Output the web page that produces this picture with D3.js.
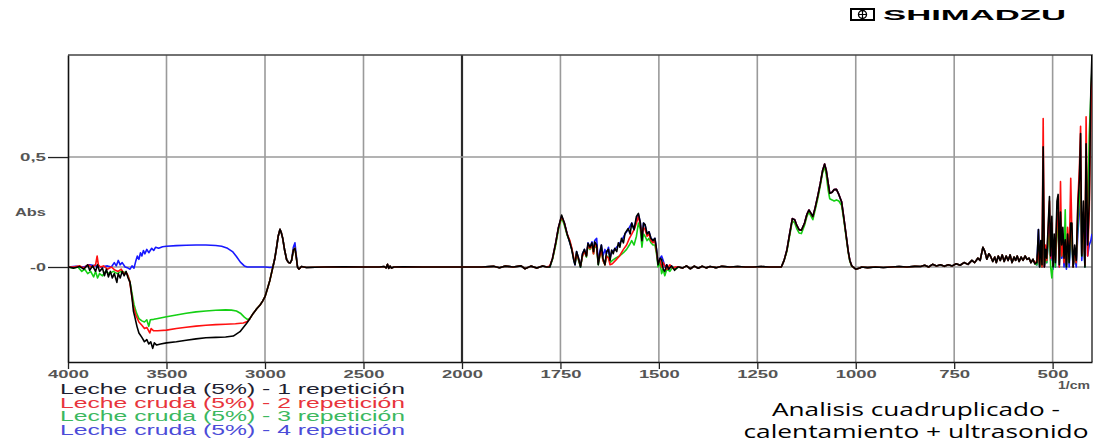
<!DOCTYPE html>
<html>
<head>
<meta charset="utf-8">
<script src="https://d3js.org/d3.v7.min.js"></script>
<style>
body { margin: 0; background: #fff; }
.grid line { stroke: #9a9a9a; stroke-width: 1.6; }
.tick-lbl { font-family: "Liberation Sans", Arial, sans-serif; font-weight: bold; font-size: 11.5px; fill: #555; }
</style>
</head>
<body>
<div id="graphId"></div>
<script>
// ---- data (wavenumber 1/cm, Abs) ----
var oh1 = [[4000,0],[3970,-0.005],[3940,0.002],[3920,-0.01],[3900,0.01],[3890,-0.015],[3875,0.005],[3860,-0.02],[3850,0.01],[3840,-0.02],[3825,-0.005],[3815,-0.04],[3805,-0.01],[3795,-0.045],[3785,-0.02],[3775,-0.05],[3765,-0.03],[3752,-0.07],[3745,-0.03],[3735,-0.05],[3725,-0.02],[3715,-0.04],[3705,-0.02],[3695,-0.05],[3685,-0.07],[3675,-0.14],[3668,-0.2],[3660,-0.23],[3650,-0.27],[3640,-0.3],[3625,-0.32],[3612,-0.34],[3600,-0.33],[3590,-0.35],[3580,-0.34],[3570,-0.37],[3562,-0.345],[3550,-0.355],[3530,-0.35],[3500,-0.345],[3450,-0.34],[3400,-0.333],[3350,-0.327],[3300,-0.322],[3250,-0.32],[3200,-0.318],[3161,-0.314],[3127,-0.294],[3093,-0.256],[3077,-0.235]];
var oh2 = [[4000,0],[3970,0],[3940,0.005],[3920,-0.005],[3900,0.01],[3880,0],[3860,0.01],[3852,0.05],[3846,0.01],[3835,0],[3820,0.005],[3800,-0.01],[3780,0],[3760,-0.015],[3745,-0.02],[3730,-0.01],[3715,-0.03],[3700,-0.03],[3688,-0.06],[3678,-0.12],[3668,-0.18],[3655,-0.22],[3640,-0.25],[3625,-0.265],[3612,-0.28],[3600,-0.275],[3585,-0.3],[3578,-0.28],[3565,-0.29],[3545,-0.29],[3500,-0.287],[3450,-0.28],[3400,-0.274],[3350,-0.269],[3300,-0.265],[3250,-0.262],[3200,-0.26],[3150,-0.258],[3110,-0.255],[3090,-0.248],[3077,-0.235]];
var oh3 = [[4000,0],[3970,-0.005],[3950,0],[3930,-0.02],[3915,-0.01],[3900,-0.03],[3885,-0.02],[3870,-0.045],[3860,-0.02],[3850,-0.05],[3840,-0.03],[3825,-0.04],[3810,-0.02],[3790,-0.03],[3770,-0.02],[3750,-0.03],[3730,-0.02],[3710,-0.025],[3695,-0.04],[3685,-0.07],[3675,-0.12],[3665,-0.17],[3652,-0.21],[3640,-0.235],[3625,-0.245],[3612,-0.25],[3600,-0.24],[3590,-0.27],[3582,-0.24],[3565,-0.238],[3550,-0.235],[3500,-0.226],[3450,-0.218],[3400,-0.21],[3350,-0.204],[3300,-0.2],[3250,-0.197],[3200,-0.195],[3170,-0.196],[3145,-0.2],[3125,-0.21],[3105,-0.228],[3090,-0.238],[3077,-0.235]];
var oh4 = [[4000,0],[3960,0.003],[3920,0],[3890,0.01],[3860,0.005],[3830,0],[3800,0.005],[3780,0],[3765,0.02],[3755,0.005],[3745,0.03],[3735,0.01],[3725,0.02],[3710,0],[3695,-0.005],[3685,-0.01],[3675,0.005],[3665,-0.005],[3655,0.03],[3648,0.05],[3640,0.035],[3632,0.065],[3625,0.05],[3617,0.075],[3610,0.06],[3600,0.08],[3590,0.065],[3575,0.085],[3565,0.075],[3555,0.09],[3540,0.085],[3520,0.092],[3500,0.094],[3450,0.097],[3400,0.099],[3350,0.1],[3300,0.1],[3250,0.098],[3220,0.094],[3190,0.085],[3165,0.07],[3145,0.048],[3125,0.022],[3105,0.005],[3090,0],[3000,0],[2975,-0.002],[2960,0]];
var subida = [[3059,-0.21],[3042,-0.19],[3025,-0.173],[3012,-0.155],[3000,-0.135],[2988,-0.1],[2975,-0.06],[2960,0]];
var chA = [[2950,0.04],[2941,0.09],[2933,0.14],[2924,0.171],[2917,0.155],[2910,0.13],[2900,0.075],[2890,0.033],[2880,0.02],[2873,0.018],[2865,0.03]];
var chPico = [[2856,0.077],[2848,0.085],[2842,0.05]];
var chPicoAzul = [[2856,0.09],[2848,0.11],[2842,0.06]];
var chB = [[2835,0],[2828,-0.01],[2815,0.002],[2790,-0.002],[2700,0],[2600,0.001],[2500,0],[2420,0],[2395,0.002],[2385,-0.004],[2378,0.012],[2372,-0.006],[2365,0.004],[2358,-0.005],[2345,0],[2300,0.001],[2200,0],[2100,0],[2000,0],[1950,0],[1920,0.003],[1905,-0.003],[1890,0.004],[1870,0],[1850,0.005],[1840,-0.008],[1825,0.004],[1810,-0.005],[1795,0.005],[1785,0]];
var am1 = [[1777,0],[1770,0.04],[1762,0.11],[1755,0.18],[1747,0.236],[1740,0.2],[1733,0.15],[1726,0.11],[1721,0.077],[1716,0.03],[1713,0.01],[1709,0.07],[1704,0.04],[1699,0],[1694,0.06],[1689,0.08],[1684,0.05],[1680,0.108],[1675,0.09],[1670,0.11],[1666,0.07],[1663,0.114],[1658,0.1],[1654,0.01],[1650,0.06],[1646,0.1],[1642,0.04],[1637,0.01],[1633,0.07],[1628,0.08],[1624,0.03],[1620,0.077],[1616,0.06],[1612,0.085],[1607,0.07],[1603,0.11],[1599,0.09],[1595,0.13],[1590,0.11],[1586,0.153],[1578,0.175],[1573,0.15],[1569,0.2],[1563,0.17],[1557,0.23],[1552,0.244],[1547,0.2],[1543,0.12],[1539,0.2],[1535,0.193],[1530,0.15],[1525,0.16],[1520,0.13],[1515,0.12],[1510,0.13],[1506,0.08],[1502,0.01],[1497,0.04],[1493,0.035],[1489,-0.01],[1485,-0.02],[1480,0.01],[1475,-0.01],[1468,0.005],[1460,-0.015],[1452,0]];
var am2 = [[1777,0.005],[1770,0.04],[1762,0.11],[1755,0.18],[1747,0.23],[1740,0.2],[1733,0.15],[1726,0.12],[1721,0.085],[1716,0.04],[1713,0.02],[1709,0.06],[1704,0.035],[1699,0.005],[1694,0.05],[1689,0.07],[1684,0.05],[1680,0.1],[1675,0.085],[1670,0.1],[1666,0.06],[1663,0.105],[1658,0.09],[1654,0.02],[1650,0.05],[1646,0.08],[1642,0.03],[1637,0.01],[1633,0.05],[1628,0.04],[1624,0.01],[1618,0.015],[1610,0.03],[1600,0.05],[1590,0.08],[1582,0.1],[1575,0.13],[1569,0.15],[1563,0.17],[1557,0.2],[1552,0.23],[1547,0.19],[1543,0.14],[1539,0.18],[1535,0.17],[1530,0.14],[1525,0.15],[1520,0.12],[1515,0.11],[1510,0.12],[1506,0.07],[1502,0.02],[1497,0.03],[1493,0],[1489,0.02],[1485,0.005],[1480,-0.01],[1472,0.01],[1465,-0.005],[1458,0]];
var am3 = [[1777,0],[1770,0.035],[1762,0.1],[1755,0.17],[1747,0.225],[1740,0.19],[1733,0.145],[1726,0.115],[1721,0.08],[1716,0.035],[1713,0.015],[1709,0.06],[1704,0.03],[1699,0],[1694,0.05],[1689,0.07],[1684,0.045],[1680,0.1],[1675,0.08],[1670,0.1],[1666,0.06],[1663,0.1],[1658,0.085],[1654,0.01],[1650,0.05],[1646,0.075],[1642,0.03],[1637,0.01],[1633,0.05],[1628,0.045],[1624,0.02],[1618,0.03],[1610,0.04],[1600,0.05],[1590,0.065],[1582,0.08],[1575,0.1],[1569,0.12],[1563,0.1],[1557,0.14],[1552,0.2],[1547,0.17],[1543,0.09],[1539,0.15],[1535,0.14],[1530,0.12],[1525,0.13],[1520,0.11],[1515,0.1],[1510,0.1],[1506,0.06],[1502,0],[1497,0.02],[1493,-0.03],[1489,-0.01],[1485,-0.04],[1480,-0.01],[1472,-0.02],[1465,0],[1458,-0.01]];
var am4 = [[1777,0],[1770,0.04],[1762,0.11],[1755,0.18],[1747,0.23],[1740,0.2],[1733,0.15],[1726,0.11],[1721,0.08],[1716,0.03],[1713,0.01],[1709,0.07],[1704,0.04],[1699,0],[1694,0.06],[1689,0.08],[1684,0.05],[1680,0.11],[1675,0.09],[1670,0.115],[1666,0.07],[1663,0.12],[1658,0.13],[1654,0.02],[1650,0.07],[1646,0.1],[1642,0.05],[1637,0.08],[1633,0.06],[1628,0.09],[1624,0.04],[1620,0.07],[1612,0.08],[1603,0.1],[1595,0.12],[1586,0.15],[1578,0.17],[1569,0.2],[1563,0.17],[1557,0.22],[1552,0.24],[1547,0.2],[1543,0.12],[1539,0.2],[1535,0.19],[1530,0.15],[1525,0.16],[1520,0.13],[1515,0.12],[1510,0.13],[1506,0.08],[1502,0.01],[1497,0.04],[1493,0.05],[1489,0.03],[1485,0],[1480,0.01],[1475,-0.01],[1468,0.005],[1460,-0.01],[1452,0]];
var media = [[1450,0],[1440,-0.005],[1430,0.005],[1420,-0.008],[1410,0.004],[1400,-0.006],[1390,0.003],[1380,-0.004],[1370,0.002],[1355,-0.003],[1340,0.003],[1320,0],[1300,0.002],[1280,0],[1260,0],[1240,0.002],[1220,0],[1200,0],[1189,0]];
var carb = [[1182,0.03],[1175,0.076],[1168,0.15],[1161,0.22],[1155,0.215],[1150,0.19],[1144,0.17],[1138,0.167],[1130,0.2],[1124,0.24],[1119,0.259],[1114,0.245],[1109,0.229],[1103,0.27],[1096,0.327],[1090,0.38],[1084,0.44],[1079,0.468],[1075,0.44],[1070,0.38],[1066,0.335],[1060,0.34],[1055,0.352],[1049,0.353],[1043,0.33],[1036,0.297],[1030,0.22],[1024,0.138],[1019,0.07],[1015,0.03],[1010,0.005],[1007,0],[1000,-0.01],[990,-0.005]];
var carbVerde = [[1182,0.03],[1175,0.07],[1168,0.14],[1161,0.21],[1155,0.2],[1150,0.175],[1144,0.155],[1138,0.152],[1130,0.19],[1124,0.23],[1119,0.25],[1114,0.232],[1109,0.215],[1103,0.26],[1096,0.315],[1090,0.37],[1084,0.43],[1079,0.455],[1075,0.42],[1070,0.35],[1066,0.31],[1060,0.305],[1055,0.3],[1049,0.305],[1043,0.3],[1036,0.28],[1030,0.21],[1024,0.13],[1019,0.065],[1015,0.025],[1010,0.003],[1007,0],[1000,-0.01],[990,-0.005]];
var baja = [[985,0],[970,-0.003],[950,0],[930,-0.002],[910,0],[890,0.002],[870,0],[850,0.003],[835,0.002],[825,0.008],[815,0],[805,0.012],[795,0.005],[785,0.01],[775,0.003],[765,0.01],[755,0.005],[745,0.015],[735,0.008],[725,0.02],[715,0.012],[705,0.03],[698,0.02],[690,0.04],[684,0.03],[677,0.09],[672,0.07],[667,0.035],[662,0.06],[658,0.05],[652,0.025],[647,0.045],[643,0.02],[638,0.05],[633,0.03],[628,0.055],[623,0.025],[618,0.05],[613,0.03],[608,0.055],[603,0.02],[598,0.045],[594,0.03],[590,0.05],[585,0.025],[580,0.045],[575,0.03],[570,0.05],[565,0.035],[560,0.04],[555,0.02],[550,0.035],[545,0.015]];
var picos1 = [[540,0.02],[536,0.17],[533,0],[530,0.12],[527,0.01],[524,0.546],[521,0],[518,0.08],[515,0.04],[511,0.2],[508,0.32],[505,0.05],[502,0.23],[499,0],[496,0.15],[493,0.02],[489,0.3],[486,0.33],[483,0.01],[480,0.25],[477,0.1],[474,0.18],[471,0.04],[468,0.124],[465,0],[462,0.15],[458,0.02],[454,0.2],[451,0.2],[448,0],[444,0.1],[440,0.03],[436,0.27],[432,0.4],[429,0.607],[426,0.05],[422,0.3],[418,0],[415,0.56],[411,0.1],[407,0.3],[403,0.8],[400,0.97]];
var picos2 = [[540,0.03],[537,0.07],[533,0.01],[530,0.1],[527,0],[524,0.675],[521,0],[518,0.1],[515,0.03],[511,0.18],[508,0.3],[505,0.04],[502,0.2],[499,0.01],[496,0.12],[493,0.03],[489,0.25],[486,0.2],[483,0],[480,0.388],[477,0.05],[474,0.15],[471,0.02],[468,0.1],[465,0.01],[462,0.18],[458,0.04],[454,0.403],[451,0.15],[448,0],[444,0.08],[440,0.02],[436,0.3],[432,0.45],[429,0.64],[426,0.06],[422,0.25],[418,0.01],[415,0.683],[411,0.05],[407,0.25],[403,0.7],[400,0.9]];
var picos3 = [[540,0.01],[537,0.08],[533,0],[530,0.06],[527,0],[524,0.3],[521,0.01],[518,0.06],[515,0.02],[511,0.12],[508,0.15],[505,0],[502,-0.05],[499,0.02],[496,0.08],[493,0],[489,0.2],[486,0.15],[483,0.02],[480,0.2],[477,0.05],[474,0.1],[471,0.03],[468,0.26],[465,0],[462,0.1],[458,0.02],[454,0.2],[451,0.1],[448,0],[444,0.06],[440,0.02],[436,0.2],[432,0.3],[429,0.4],[426,0.05],[422,0.2],[418,0],[415,0.5],[411,0.2],[407,0.6],[403,0.78],[400,0.9]];
var picos4 = [[540,0.01],[536,0.17],[533,0],[530,0.08],[527,0],[524,0.25],[521,0],[518,0.05],[515,0.02],[511,0.12],[508,0.2],[505,0.03],[502,0.1],[499,-0.01],[496,0.1],[493,0],[489,0.2],[486,0.22],[483,0],[480,0.15],[477,0.04],[474,0.1],[471,0],[468,0.08],[465,-0.01],[462,0.1],[458,0],[454,0.12],[451,0.1],[448,0],[444,0.05],[440,0],[436,0.15],[432,0.25],[429,0.35],[426,0.03],[422,0.15],[418,0],[415,0.3],[411,0.05],[407,0.1],[403,0.12],[400,0.15]];

var leyendas = ["Leche cruda (5%) - 1 repetición", "Leche cruda (5%) - 2 repetición", "Leche cruda (5%) - 3 repetición", "Leche cruda (5%) - 4 repetición"];
var coloresLinea = ["#000000", "#ff1010", "#14d014", "#1818ff"];
var coloresLeyenda = ["#1e1e30", "#e8343c", "#3cb860", "#4c4cd8"];
var xMayores = [4000, 3500, 3000, 2500, 2000, 1750, 1500, 1250, 1000, 750, 500];

var series = [
    oh1.concat(subida, chA, chPico, chB, am1, media, carb, baja, picos1),
    oh2.concat(subida, chA, chPico, chB, am2, media, carb, baja, picos2),
    oh3.concat(subida, chA, chPico, chB, am3, media, carbVerde, baja, picos3),
    oh4.concat(chA, chPicoAzul, chB, am4, media, carb, baja, picos4)
];

var wt = 1104, ht = 444;
var margin = {top: 55, right: 12, bottom: 82, left: 68};
var width = wt - margin.left - margin.right;
var height = ht - margin.top - margin.bottom;

var svg = d3.select("#graphId").append("svg")
    .attr("width", wt)
    .attr("height", ht);
svg.append("rect").attr("width", wt).attr("height", ht).attr("fill", "#fff");

var g = svg.append("g")
    .attr("transform", "translate(" + margin.left + "," + margin.top + ")");

// piecewise scale: 4000-2000 compressed to half of 2000-400
var x = d3.scaleLinear().domain([4000, 2000, 400]).range([0, 394, width]);
var y = d3.scaleLinear().domain([-0.432, 0.964]).range([height, 0]);

// grid
var grid = g.append("g").attr("class", "grid");
grid.selectAll("line.v")
    .data(xMayores.filter(function (d) { return d !== 4000; }))
    .enter().append("line")
    .attr("x1", function (d) { return x(d); })
    .attr("x2", function (d) { return x(d); })
    .attr("y1", 0).attr("y2", height)
    .style("stroke", function (d) { return d === 2000 ? "#2a2a2a" : null; })
    .style("stroke-width", function (d) { return d === 2000 ? 2.2 : null; });
grid.selectAll("line.h")
    .data([0, 0.5])
    .enter().append("line")
    .attr("x1", 0).attr("x2", width)
    .attr("y1", function (d) { return y(d); })
    .attr("y2", function (d) { return y(d); });

// frame top + right
g.append("path")
    .attr("d", "M0,0H" + width + "V" + height)
    .attr("fill", "none")
    .attr("stroke", "#444")
    .attr("stroke-width", 1.6);

// spectra
g.append("clipPath").attr("id", "clip")
    .append("rect").attr("width", width).attr("height", height);

var line = d3.line()
    .x(function (d) { return x(d[0]); })
    .y(function (d) { return y(d[1]); });

var orden = [3, 2, 1, 0];
g.append("g").attr("clip-path", "url(#clip)")
    .selectAll("path")
    .data(orden)
    .enter().append("path")
    .attr("d", function (i) { return line(series[i]); })
    .attr("fill", "none")
    .attr("stroke", function (i) { return coloresLinea[i]; })
    .attr("stroke-width", 1.6)
    .attr("stroke-linejoin", "round");

// x axis
var xMenores = d3.range(3900, 2000, -100).concat(d3.range(1950, 400, -50))
    .filter(function (d) { return xMayores.indexOf(d) < 0; });

var axX = g.append("g")
    .attr("transform", "translate(0," + height + ")");
axX.call(d3.axisBottom(x).tickValues(xMenores).tickSize(4).tickFormat(""));
axX.call(d3.axisBottom(x).tickValues(xMayores).tickSize(7).tickSizeOuter(0).tickPadding(3)
    .tickFormat(d3.format("d")));
axX.selectAll("path.domain").attr("stroke", "#111").attr("stroke-width", 1.6);
axX.selectAll(".tick line").attr("stroke", "#222").attr("stroke-width", 1.3);
axX.selectAll(".tick text")
    .attr("class", "tick-lbl")
    .attr("y", 8)
    .attr("dy", "0.71em")
    .attr("textLength", function (d) { return String(d).length === 4 ? 41 : 31; })
    .attr("lengthAdjust", "spacingAndGlyphs");
axX.attr("font-family", null).attr("font-size", null);

g.append("text")
    .attr("class", "tick-lbl")
    .attr("x", width - 2)
    .attr("y", 389 - margin.top)
    .attr("text-anchor", "end")
    .attr("textLength", 32)
    .attr("lengthAdjust", "spacingAndGlyphs")
    .text("1/cm");

// y axis
var axY = g.append("g");
axY.call(d3.axisLeft(y).tickValues(d3.range(-4, 10).map(function (d) { return d / 10; }))
    .tickSize(10).tickFormat(""));
axY.call(d3.axisLeft(y).tickValues([0, 0.5]).tickSize(20).tickSizeOuter(0).tickFormat(""));
axY.selectAll("path.domain").attr("stroke", "#111").attr("stroke-width", 1.6);
axY.selectAll(".tick line").attr("stroke", "#222").attr("stroke-width", 1.3);

var yLbls = [{t: "0,5", v: 0.5, w: 26}, {t: "Abs", v: 0.25, w: 31}, {t: "-0", v: 0, w: 16}];
g.selectAll("text.ylbl")
    .data(yLbls)
    .enter().append("text")
    .attr("class", "tick-lbl")
    .attr("x", -22)
    .attr("y", function (d) { return y(d.v) + 4; })
    .attr("text-anchor", "end")
    .attr("textLength", function (d) { return d.w; })
    .attr("lengthAdjust", "spacingAndGlyphs")
    .text(function (d) { return d.t; });

// legend
svg.selectAll("text.leg")
    .data(leyendas)
    .enter().append("text")
    .attr("x", 60)
    .attr("y", function (d, i) { return 394 + i * 13.7; })
    .attr("font-family", "Liberation Sans, Arial, sans-serif")
    .attr("font-size", 14.6)
    .attr("fill", function (d, i) { return coloresLeyenda[i]; })
    .attr("textLength", 345)
    .attr("lengthAdjust", "spacingAndGlyphs")
    .text(function (d) { return d; });

// caption
var titulo = [{t: "Analisis cuadruplicado -", w: 288, yy: 416}, {t: "calentamiento + ultrasonido", w: 345, yy: 438}];
svg.selectAll("text.tit")
    .data(titulo)
    .enter().append("text")
    .attr("x", 916)
    .attr("y", function (d) { return d.yy; })
    .attr("text-anchor", "middle")
    .attr("font-family", "Open Sans, sans-serif")
    .attr("font-size", 18)
    .attr("font-weight", 500)
    .attr("fill", "#000")
    .attr("textLength", function (d) { return d.w; })
    .attr("lengthAdjust", "spacingAndGlyphs")
    .text(function (d) { return d.t; });

// logo
var logo = svg.append("g");
logo.append("rect").attr("x", 851).attr("y", 9).attr("width", 23).attr("height", 11)
    .attr("fill", "none").attr("stroke", "#000").attr("stroke-width", 2);
logo.append("circle").attr("cx", 862.5).attr("cy", 14.5).attr("r", 4)
    .attr("fill", "none").attr("stroke", "#000").attr("stroke-width", 1.4);
logo.append("path").attr("d", "M858.5,14.5H866.5M862.5,10.5V18.5")
    .attr("stroke", "#000").attr("stroke-width", 1.2);
logo.append("text")
    .attr("x", 883).attr("y", 20)
    .attr("font-family", "Liberation Sans, Arial, sans-serif")
    .attr("font-weight", "bold")
    .attr("font-size", 15)
    .attr("fill", "#000")
    .attr("textLength", 183)
    .attr("lengthAdjust", "spacingAndGlyphs")
    .text("SHIMADZU");
</script>
</body>
</html>
